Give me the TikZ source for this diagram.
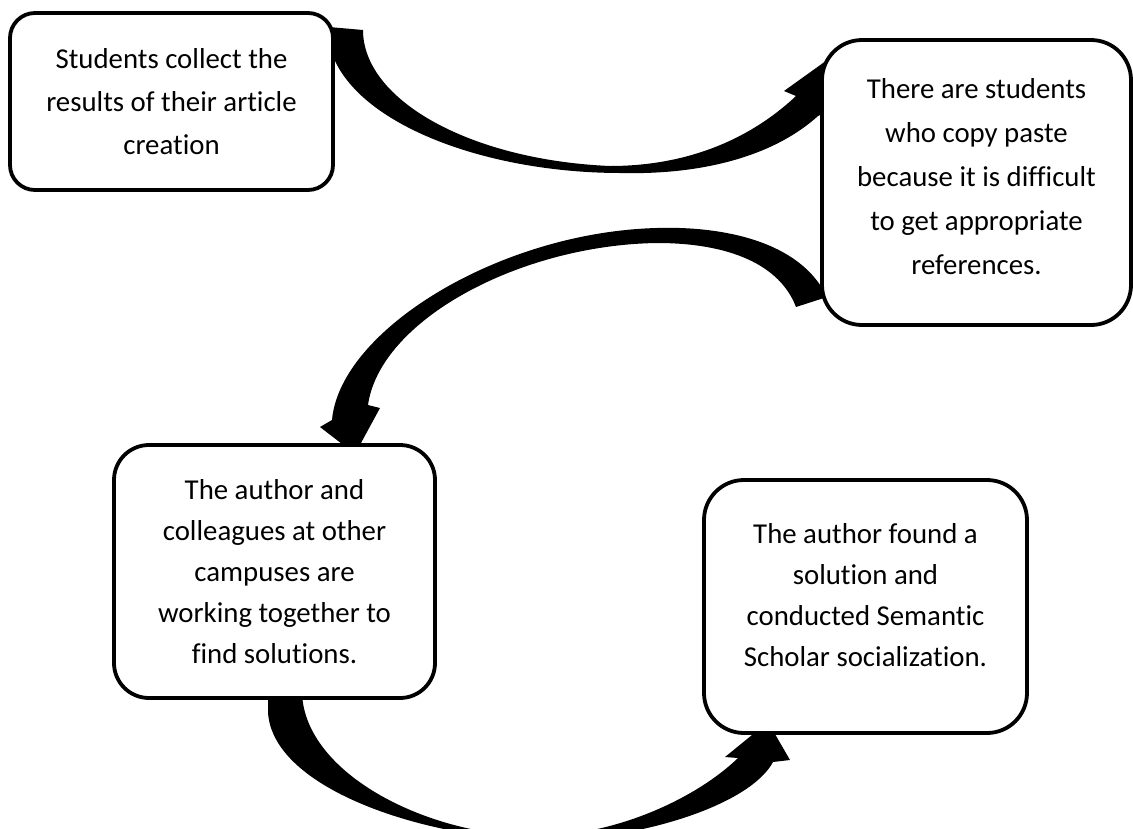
\documentclass[tikz,border=0pt]{standalone}
\usepackage{fontspec}
\setmainfont{Carlito}[Ligatures={NoCommon}]
\begin{document}
\begin{tikzpicture}[x=1pt,y=-1pt,
  box/.style={draw=black, line width=3.8pt, fill=white, rounded corners=#1,
    inner sep=0pt, align=center},
  box/.default=30pt,
  boxfont/.style={font=\fontsize{28.8}{#1}\selectfont},
  flow/.style={fill=black}]
\useasboundingbox (0,0) rectangle (1133,828);

% curved block arrows (drawn first, boxes cover their ends)
\begin{scope}
\clip (0,0) rectangle (1133,828);
\fill[flow] (329,27) -- (363,30)
  .. controls (363,100) and (470,160) .. (610,166)
  .. controls (700,166) and (760,130) .. (796,96)
  -- (784,91) -- (830,58) -- (850,100) -- (818,116)
  .. controls (775,155) and (705,175) .. (621,173)
  .. controls (480,173) and (345,120) .. (329,43) -- cycle;
\fill[flow] (796,307) -- (827,297)
  .. controls (800,240) and (720,226) .. (657,228)
  .. controls (500,232) and (340,330) .. (332,420)
  -- (320,427) -- (355,454) -- (380,408) -- (368,405)
  .. controls (380,320) and (520,245) .. (657,243)
  .. controls (730,243) and (780,265) .. (796,307) -- cycle;
\fill[flow] (268,692) -- (302,693)
  .. controls (305,775) and (430,836) .. (535,836)
  .. controls (620,836) and (700,795) .. (738,758)
  -- (725,757) -- (768,722) -- (790,760) -- (773,762)
  .. controls (750,805) and (640,840) .. (545,840)
  .. controls (430,840) and (272,790) .. (268,712) -- cycle;
\end{scope}

\node[box=25pt, boxfont=43, minimum width=323pt, minimum height=177pt] (b1) at (171.5,101.5)
  {Students collect the\\results of their article\\creation};
\node[box=40pt, boxfont=44, minimum width=309pt, minimum height=285pt] (b2) at (976.5,182.5)
  {There are students\\who copy paste\\because it is difficult\\to get appropriate\\references.\rule[-12pt]{0pt}{1pt}};
\node[box=35pt, boxfont=41, minimum width=321pt, minimum height=253pt] (b3) at (274.5,571.5)
  {The author and\\colleagues at other\\campuses are\\working together to\\find solutions.};
\node[box=40pt, boxfont=41, minimum width=323pt, minimum height=253pt] (b4) at (865.5,606.5)
  {The author found a\\solution and\\conducted Semantic\\Scholar socialization.\rule[-24pt]{0pt}{1pt}};
\end{tikzpicture}
\end{document}
